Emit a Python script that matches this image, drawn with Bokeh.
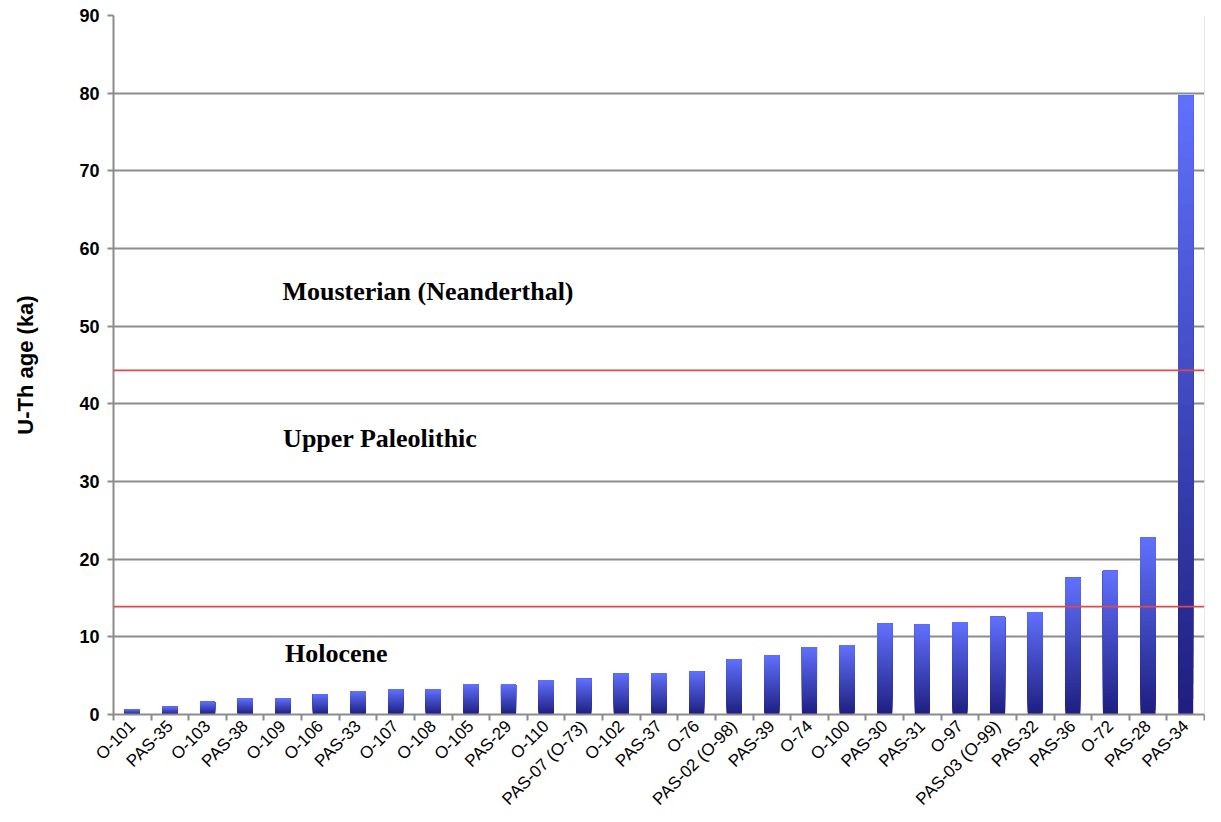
import math
from bokeh.plotting import figure
from bokeh.models import ColumnDataSource, Range1d, FixedTicker, Span
from bokeh.core.properties import value
from bokeh.embed import file_html
from bokeh.resources import INLINE

# ---- data ----
samples = ["O-101", "PAS-35", "O-103", "PAS-38", "O-109", "O-106", "PAS-33", "O-107",
           "O-108", "O-105", "PAS-29", "O-110", "PAS-07 (O-73)", "O-102", "PAS-37", "O-76",
           "PAS-02 (O-98)", "PAS-39", "O-74", "O-100", "PAS-30", "PAS-31", "O-97",
           "PAS-03 (O-99)", "PAS-32", "PAS-36", "O-72", "PAS-28", "PAS-34"]
ages_ka = [0.7, 1.0, 1.65, 2.1, 2.1, 2.6, 3.0, 3.25,
           3.25, 3.9, 3.9, 4.4, 4.6, 5.3, 5.3, 5.55,
           7.15, 7.6, 8.7, 8.95, 11.7, 11.6, 11.85,
           12.6, 13.2, 17.6, 18.5, 22.8, 79.7]
period_boundaries = [13.9, 44.3]
period_names = ["Holocene", "Upper Paleolithic", "Mousterian (Neanderthal)"]
y_ticks = [0, 10, 20, 30, 40, 50, 60, 70, 80, 90]

# ---- gradient bars (stacked overlapping segments, dark bottom -> light top) ----
N = 40
c_bot = (30, 31, 128)
c_top = (96, 112, 252)
xs, bots, tops, cols = [], [], [], []
for i, v in enumerate(ages_ka):
    for k in range(N):
        f = k / (N - 1)
        r = round(c_bot[0] + (c_top[0] - c_bot[0]) * f)
        g = round(c_bot[1] + (c_top[1] - c_bot[1]) * f)
        b = round(c_bot[2] + (c_top[2] - c_bot[2]) * f)
        xs.append(i)
        bots.append(v * k / N)
        tops.append(v)
        cols.append("#%02x%02x%02x" % (r, g, b))
src = ColumnDataSource(dict(x=xs, bottom=bots, top=tops, color=cols))

n = len(samples)
p = figure(width=1205, height=818, output_backend="svg", toolbar_location=None,
           x_range=Range1d(-0.5, n - 0.5), y_range=Range1d(0, 90),
           min_border_left=113, min_border_top=15, min_border_right=1, min_border_bottom=100)
p.outline_line_color = None
p.background_fill_color = "white"

p.vbar(x="x", bottom="bottom", top="top", width=0.4, fill_color="color",
       line_color=None, source=src)

for yb in period_boundaries:
    p.add_layout(Span(location=yb, dimension="width", line_color="#de4a4a", line_width=1.8))

p.add_layout(Span(location=n - 0.5, dimension="height", line_color="#cfcfcf", line_width=1))

# era labels
p.text(x=[5.42, 6.59, 7.86], y=[7.85, 35.5, 54.4], text=period_names,
       text_font=value("Liberation Serif"), text_font_style="bold",
       text_font_size="26px", text_align="center", text_baseline="middle",
       text_color="black")

# grid
p.xgrid.grid_line_color = None
p.ygrid.grid_line_color = "#8c8c8c"
p.ygrid.grid_line_width = 2
p.ygrid.ticker = FixedTicker(ticks=y_ticks)

# y axis
p.yaxis.ticker = FixedTicker(ticks=y_ticks)
p.yaxis.axis_label = "U-Th age (ka)"
p.yaxis.axis_label_text_font = "Liberation Sans"
p.yaxis.axis_label_text_font_style = "bold"
p.yaxis.axis_label_text_font_size = "22px"
p.yaxis.axis_label_text_color = "black"
p.yaxis.axis_label_standoff = 38
p.yaxis.major_label_text_font = "Liberation Sans"
p.yaxis.major_label_text_font_style = "bold"
p.yaxis.major_label_text_font_size = "18px"
p.yaxis.major_label_text_color = "black"
p.yaxis.major_label_standoff = 8
p.yaxis.axis_line_color = "#8c8c8c"
p.yaxis.axis_line_width = 2
p.yaxis.major_tick_line_color = "#8c8c8c"
p.yaxis.major_tick_line_width = 2
p.yaxis.major_tick_in = 0
p.yaxis.major_tick_out = 6
p.yaxis.minor_tick_line_color = None

# x axis
p.xaxis.ticker = FixedTicker(ticks=list(range(n)),
                             minor_ticks=[i - 0.5 for i in range(n + 1)])
p.xaxis.major_label_overrides = {i: s for i, s in enumerate(samples)}
p.xaxis.major_label_orientation = math.pi / 4
p.xaxis.major_label_text_font = "Liberation Sans"
p.xaxis.major_label_text_font_size = "17px"
p.xaxis.major_label_text_color = "black"
p.xaxis.major_label_standoff = 3
p.xaxis.axis_line_color = "#8c8c8c"
p.xaxis.axis_line_width = 2
p.xaxis.major_tick_line_color = None
p.xaxis.minor_tick_line_color = "#8c8c8c"
p.xaxis.minor_tick_line_width = 2
p.xaxis.minor_tick_in = 0
p.xaxis.minor_tick_out = 6

open("out.html", "w").write(file_html(p, INLINE))
